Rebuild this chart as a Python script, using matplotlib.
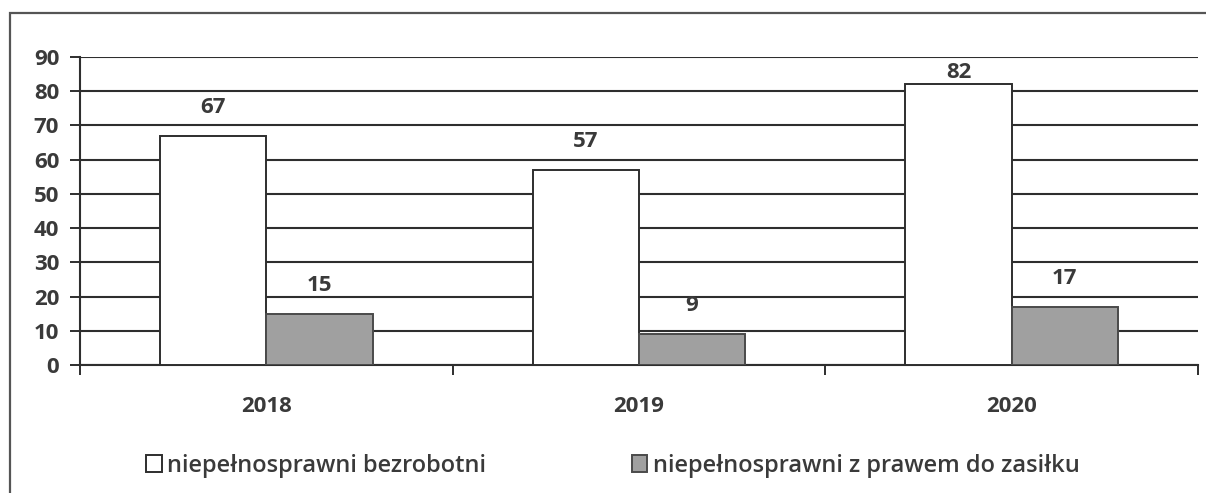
import matplotlib
matplotlib.use('Agg')
import matplotlib.pyplot as plt
import numpy as np
from matplotlib.patches import Rectangle

years = ['2018', '2019', '2020']
bezrobotni = [67, 57, 82]
z_zasilkiem = [15, 9, 17]
series_names = ['niepełnosprawni bezrobotni', 'niepełnosprawni z prawem do zasiłku']

plt.rcParams['font.family'] = ['Open Sans', 'DejaVu Sans']
text_col = '#3a3a3a'
line_col = '#2e2e2e'

fig = plt.figure(figsize=(12.06, 4.93), dpi=100)
fig.patch.set_facecolor('white')

# outer chart frame (partially cropped in the scan)
fig.patches.append(Rectangle((10 / 1206, -0.1), 1.2, 1 - 13 / 493 + 0.1,
                             transform=fig.transFigure, fill=False,
                             edgecolor='#555555', linewidth=1.6))

ax = fig.add_axes([80 / 1206, 1 - 365 / 493, 1118 / 1206, 308 / 493])
x = np.arange(len(years))
w = 0.285

b1 = ax.bar(x - w / 2, bezrobotni, w, color='white', edgecolor=line_col, linewidth=1.4, zorder=3)
b2 = ax.bar(x + w / 2, z_zasilkiem, w, color='#a0a0a0', edgecolor='#4a4a4a', linewidth=1.4, zorder=3)

for bars, vals in [(b1, bezrobotni), (b2, z_zasilkiem)]:
    for rect, v in zip(bars, vals):
        # labels sit above bars, but are kept inside the plot near the top
        ax.text(rect.get_x() + rect.get_width() / 2, min(v + 8.3, 85.6), str(v),
                ha='center', va='center', fontsize=16, fontweight='bold', color=text_col)

ax.set_xlim(-0.5, 2.5)
ax.set_ylim(0, 90)
ax.set_yticks(range(0, 91, 10))
ax.yaxis.grid(True, color=line_col, linewidth=1.5, zorder=0)
ax.set_axisbelow(True)

ax.set_xticks(x)
ax.set_xticklabels(years)
ax.set_xticks([-0.5, 0.5, 1.5, 2.5], minor=True)
ax.tick_params(axis='x', which='major', length=0, pad=22)
ax.tick_params(axis='x', which='minor', length=7, width=1.4, color=line_col, direction='out')
ax.tick_params(axis='y', length=7, width=1.4, color=line_col, pad=8)
for lab in ax.get_xticklabels() + ax.get_yticklabels():
    lab.set_fontsize(16)
    lab.set_fontweight('bold')
    lab.set_color(text_col)

for s in ['top', 'right']:
    ax.spines[s].set_visible(False)
for s in ['left', 'bottom']:
    ax.spines[s].set_color(line_col)
    ax.spines[s].set_linewidth(1.5)

leg = fig.legend([b1, b2], series_names, loc='center',
                 bbox_to_anchor=(0.5 + 10 / 1206, 1 - 466 / 493),
                 ncol=2, frameon=False, prop={'size': 17, 'weight': 'semibold'},
                 handlelength=0.65, handleheight=0.75, handletextpad=0.25, columnspacing=6.15)
for t in leg.get_texts():
    t.set_color(text_col)

fig.savefig('out.png', dpi=100, facecolor='white')
